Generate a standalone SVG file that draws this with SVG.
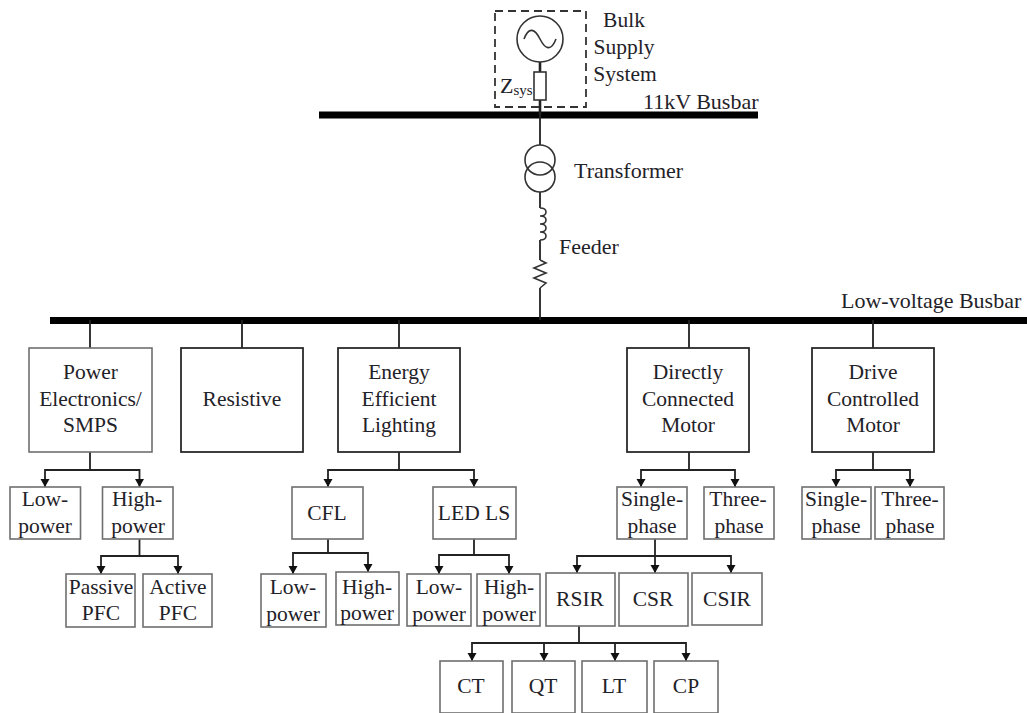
<svg xmlns="http://www.w3.org/2000/svg" width="1027" height="713" viewBox="0 0 1027 713">
<style>
text{font-family:"Liberation Serif","Times New Roman",serif;font-size:21.5px;fill:#1f2228;text-anchor:middle}
.l{text-anchor:start;font-size:22px}
.b{fill:#fff;stroke:#6f6f6f;stroke-width:1.6}
.d{fill:#fff;stroke:#2a2a2a;stroke-width:1.8}
.c{fill:none;stroke:#222;stroke-width:1.8}
.e{fill:none;stroke:#333;stroke-width:1.6}
.bus{stroke:#000;stroke-width:7}
</style>
<defs><marker id="a" markerUnits="userSpaceOnUse" markerWidth="10" markerHeight="10" refX="8" refY="4.500" orient="auto"><path d="M0 0L8 4.500L0 9Z" fill="#111"/></marker></defs>
<g id="connectors">
<path class="bus" d="M319 115H758M50 320.500H1027"/>
<path class="c" d="M540 115V145M540 192V208M540 240V260M540 288V320"/>
<path class="c" d="M540 62V72M540 100V115" style="stroke-width:2.600"/>
<path class="c" d="M90 320V348M242 320V348M399 320V348M689 320V348M873 320V348"/>
<path class="c" marker-end="url(#a)" d="M90 452V470H45V487"/>
<path class="c" marker-end="url(#a)" d="M90 470H139.500V487"/>
<path class="c" marker-end="url(#a)" d="M139.500 539V556H101V574"/>
<path class="c" marker-end="url(#a)" d="M139.500 556H178V574"/>
<path class="c" marker-end="url(#a)" d="M399 452V470H328V487"/>
<path class="c" marker-end="url(#a)" d="M399 470H474V487"/>
<path class="c" marker-end="url(#a)" d="M328 539V553H293V574"/>
<path class="c" marker-end="url(#a)" d="M328 553H368V572"/>
<path class="c" marker-end="url(#a)" d="M474 539V555H439V574"/>
<path class="c" marker-end="url(#a)" d="M474 555H509V574"/>
<path class="c" marker-end="url(#a)" d="M689 452V470H641V487"/>
<path class="c" marker-end="url(#a)" d="M689 470H735V487"/>
<path class="c" marker-end="url(#a)" d="M655 539V556H577V573"/>
<path class="c" marker-end="url(#a)" d="M655 556V573"/>
<path class="c" marker-end="url(#a)" d="M655 556H731V573"/>
<path class="c" marker-end="url(#a)" d="M873 452V470H836V487"/>
<path class="c" marker-end="url(#a)" d="M873 470H910V487"/>
<path class="c" marker-end="url(#a)" d="M579 626V643H472V661"/>
<path class="c" marker-end="url(#a)" d="M579 643H544V661"/>
<path class="c" marker-end="url(#a)" d="M579 643H615V661"/>
<path class="c" marker-end="url(#a)" d="M579 643H686V661"/>
</g>
<g id="bulk-supply">
<rect x="495" y="11" width="91" height="96" fill="none" stroke="#333" stroke-width="1.8" stroke-dasharray="8 5"/>
<circle class="e" cx="540" cy="39" r="23"/>
<path class="e" d="M524 39C529 26 535 29 540 39S551 52 556 39"/>
<rect class="e" x="534" y="72" width="12" height="28"/>
<text class="l" x="500" y="93">Z<tspan font-size="15" dy="2">sys</tspan></text>
<text x="624" y="27">Bulk</text><text x="624" y="54">Supply</text><text x="625" y="81">System</text>
</g>
<text id="busbar-11kv" x="643" y="109" class="l">11kV Busbar</text>
<g id="transformer">
<circle class="e" cx="540" cy="160" r="15"/><circle class="e" cx="540" cy="177" r="15"/>
<text class="l" x="574" y="178">Transformer</text>
</g>
<g id="feeder">
<path class="e" d="M540 208C548 208 548 216 540 216C548 216 548 224 540 224C548 224 548 232 540 232C548 232 548 240 540 240"/>
<path class="e" d="M540 260L546 263L534 268L546 273L534 278L546 283L540 288"/>
<text class="l" x="559" y="254">Feeder</text>
</g>
<text id="lv-busbar" x="841" y="308" class="l">Low-voltage Busbar</text>
<g id="power-electronics"><rect class="b" x="29" y="348" width="123" height="104"/><text x="90.500" y="379">Power</text><text x="90.500" y="405.500">Electronics/</text><text x="90.500" y="432">SMPS</text></g>
<g id="resistive"><rect class="d" x="181" y="348" width="122" height="104"/><text x="242" y="405.500">Resistive</text></g>
<g id="lighting"><rect class="d" x="338" y="348" width="122" height="104"/><text x="399" y="379">Energy</text><text x="399" y="405.500">Efficient</text><text x="399" y="432">Lighting</text></g>
<g id="direct-motor"><rect class="d" x="627" y="348" width="122" height="104"/><text x="688" y="379">Directly</text><text x="688" y="405.500">Connected</text><text x="688" y="432">Motor</text></g>
<g id="drive-motor"><rect class="d" x="812" y="348" width="122" height="104"/><text x="873" y="379">Drive</text><text x="873" y="405.500">Controlled</text><text x="873" y="432">Motor</text></g>
<g id="pe-low"><rect class="b" x="10" y="487" width="70.500" height="52"/><text x="45" y="506">Low-</text><text x="45" y="533">power</text></g>
<g id="pe-high"><rect class="b" x="102.500" y="487" width="70.500" height="52"/><text x="137" y="506">High-</text><text x="138" y="533">power</text></g>
<g id="passive-pfc"><rect class="b" x="66" y="574" width="69" height="53"/><text x="101" y="594">Passive</text><text x="101" y="620">PFC</text></g>
<g id="active-pfc"><rect class="b" x="143" y="574" width="69" height="53"/><text x="178" y="594">Active</text><text x="178" y="620">PFC</text></g>
<g id="cfl"><rect class="b" x="292" y="487" width="71" height="52"/><text x="327" y="520">CFL</text></g>
<g id="led"><rect class="b" x="433" y="487" width="83" height="52"/><text x="474" y="520">LED LS</text></g>
<g id="cfl-low"><rect class="b" x="261" y="574" width="65" height="53"/><text x="293" y="594">Low-</text><text x="293" y="621">power</text></g>
<g id="cfl-high"><rect class="b" x="336" y="572" width="63" height="53"/><text x="367" y="594">High-</text><text x="367" y="620">power</text></g>
<g id="led-low"><rect class="b" x="407" y="574" width="64" height="52"/><text x="439" y="594">Low-</text><text x="439" y="621">power</text></g>
<g id="led-high"><rect class="b" x="477" y="574" width="63" height="52"/><text x="509" y="594">High-</text><text x="509" y="621">power</text></g>
<g id="dm-single"><rect class="b" x="617" y="487" width="70" height="52"/><text x="652" y="506">Single-</text><text x="652" y="533">phase</text></g>
<g id="dm-three"><rect class="b" x="704" y="487" width="70" height="52"/><text x="738" y="506">Three-</text><text x="739" y="533">phase</text></g>
<g id="dc-single"><rect class="b" x="802" y="487" width="69" height="52"/><text x="836" y="506">Single-</text><text x="836" y="533">phase</text></g>
<g id="dc-three"><rect class="b" x="875" y="487" width="69" height="52"/><text x="910" y="506">Three-</text><text x="910" y="533">phase</text></g>
<g id="rsir"><rect class="b" x="546" y="573" width="69" height="53"/><text x="580" y="606">RSIR</text></g>
<g id="csr"><rect class="b" x="619" y="573" width="69" height="53"/><text x="653" y="606">CSR</text></g>
<g id="csir"><rect class="b" x="692" y="573" width="70" height="52"/><text x="727" y="606">CSIR</text></g>
<g id="ct"><rect class="b" x="440" y="661" width="63" height="52"/><text x="471" y="693">CT</text></g>
<g id="qt"><rect class="b" x="512" y="661" width="63" height="52"/><text x="543" y="693">QT</text></g>
<g id="lt"><rect class="b" x="582" y="661" width="65" height="52"/><text x="614" y="693">LT</text></g>
<g id="cp"><rect class="b" x="654" y="661" width="64" height="52"/><text x="686" y="693">CP</text></g>
</svg>
